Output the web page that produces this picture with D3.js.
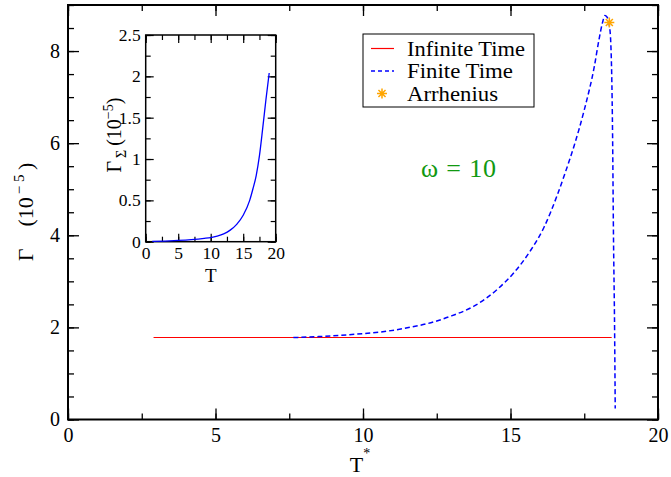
<!DOCTYPE html>
<html>
<head>
<meta charset="utf-8">
<script src="https://cdn.jsdelivr.net/npm/d3@7"></script>
<style>
  body { margin: 0; background: #fff; }
  svg { display: block; }
  text { font-family: "Liberation Serif", "Times New Roman", serif; }
</style>
</head>
<body>
<svg id="chart" width="671" height="477"></svg>
<script>
// main panel data
const infiniteT = [2.9, 18.43];
const infiniteG = [1.78, 1.78];
const finiteT = [7.64, 8.5, 9.5, 10.6, 11.5, 12.4, 13.0, 13.76, 14.56, 15.12, 15.69, 16.14, 16.59, 16.85, 17.16, 17.5, 17.84, 18.0, 18.12, 18.2, 18.27, 18.35, 18.4, 18.46, 18.49, 18.53, 18.55];
const finiteG = [1.78, 1.8, 1.84, 1.9, 1.99, 2.12, 2.25, 2.46, 2.83, 3.19, 3.68, 4.18, 4.88, 5.35, 5.95, 6.72, 7.66, 8.25, 8.62, 8.77, 8.74, 8.56, 8.17, 6.2, 4.04, 1.87, 0.24];
const arrheniusT = [18.35];
const arrheniusG = [8.62];

// inset data
const insetT = [1, 3, 5, 7, 9, 10, 11, 12, 13, 14, 15, 16, 16.5, 17, 17.5, 18, 18.5, 19.0];
const insetG = [0.003, 0.008, 0.015, 0.025, 0.04, 0.05, 0.068, 0.095, 0.14, 0.21, 0.32, 0.5, 0.64, 0.8, 1.04, 1.37, 1.72, 2.04];

const legendLabels = ['Infinite Time', 'Finite Time', 'Arrhenius'];
const mainXTicks = [0, 5, 10, 15, 20];
const mainYTicks = [0, 2, 4, 6, 8];
const insetXTicks = [0, 5, 10, 15, 20];
const insetYTicks = [0, 0.5, 1, 1.5, 2, 2.5];

const svg = d3.select('#chart');
const serif = '"Liberation Serif", "Times New Roman", serif';

const x = d3.scaleLinear().domain([0, 20]).range([68, 658]);
const y = d3.scaleLinear().domain([0, 9]).range([419.5, 5]);
const ix = d3.scaleLinear().domain([0, 20]).range([145.7, 275.7]);
const iy = d3.scaleLinear().domain([0, 2.5]).range([241.7, 35]);

function frame(xs, ys, opt) {
  const [x0, x1] = xs.range();
  const [y0, y1] = ys.range();
  const g = svg.append('g');
  const minorX = d3.range(xs.domain()[0], xs.domain()[1] + 1e-9, opt.xMinor);
  const minorY = d3.range(ys.domain()[0], ys.domain()[1] + 1e-9, opt.yMinor);

  const axes = [
    [() => d3.axisBottom(xs), `translate(0,${y0})`, minorX, opt.xTicks, true],
    [() => d3.axisTop(xs), `translate(0,${y1})`, minorX, opt.xTicks, false],
    [() => d3.axisLeft(ys), `translate(${x0},0)`, minorY, opt.yTicks, true],
    [() => d3.axisRight(ys), `translate(${x1},0)`, minorY, opt.yTicks, false]
  ];
  axes.forEach(([mk, tr, minor, major, labels]) => {
    g.append('g').attr('transform', tr)
      .call(mk().tickValues(minor).tickSize(-opt.minor).tickFormat(''))
      .call(s => s.select('.domain').remove());
    const a = g.append('g').attr('transform', tr)
      .call(mk().tickValues(major).tickSize(-opt.major).tickPadding(opt.pad)
        .tickFormat(labels ? d3.format('') : ''));
    a.attr('font-family', serif).attr('font-size', opt.font);
    a.select('.domain').remove();
    a.selectAll('text').style('font-size', opt.font + 'px')
      .style('font-family', serif).attr('fill', '#000');
  });
  g.selectAll('.tick line').attr('stroke', '#000').attr('stroke-width', opt.tickW);
  g.append('rect')
    .attr('x', x0).attr('y', y1)
    .attr('width', x1 - x0).attr('height', y0 - y1)
    .attr('fill', 'none').attr('stroke', '#000').attr('stroke-width', opt.frameW);
  return g;
}

frame(x, y, { xTicks: mainXTicks, yTicks: mainYTicks, xMinor: 2.5, yMinor: 0.5,
  major: 11, minor: 6, pad: 8, font: 20, tickW: 1.3, frameW: 2 });

// red and blue curves
svg.append('path')
  .attr('d', d3.line().x(d => x(d[0])).y(d => y(d[1]))(d3.zip(infiniteT, infiniteG)))
  .attr('fill', 'none').attr('stroke', '#ff0000').attr('stroke-width', 1.2);
svg.append('path')
  .attr('d', d3.line().x(d => x(d[0])).y(d => y(d[1])).curve(d3.curveMonotoneX)(d3.zip(finiteT, finiteG)))
  .attr('fill', 'none').attr('stroke', '#0000ff').attr('stroke-width', 1.5)
  .attr('stroke-dasharray', '5,3');

function star(g, cx, cy, r) {
  const p = d3.path();
  for (let k = 0; k < 4; k++) {
    const a = k * Math.PI / 4;
    p.moveTo(cx - r * Math.cos(a), cy - r * Math.sin(a));
    p.lineTo(cx + r * Math.cos(a), cy + r * Math.sin(a));
  }
  g.append('path').attr('d', p.toString())
    .attr('stroke', '#ffa500').attr('stroke-width', 1.5).attr('fill', 'none');
}
arrheniusT.forEach((t, i) => star(svg, x(t), y(arrheniusG[i]), 5));

// legend
const lg = svg.append('g');
lg.append('rect').attr('x', 363).attr('y', 34).attr('width', 171).attr('height', 73)
  .attr('fill', 'none').attr('stroke', '#000').attr('stroke-width', 1);
legendLabels.forEach((lab, i) => {
  const ly = 48.5 + i * 22.5;
  if (i === 0) lg.append('line').attr('x1', 371).attr('x2', 394).attr('y1', ly).attr('y2', ly)
    .attr('stroke', '#ff0000').attr('stroke-width', 1.2);
  if (i === 1) lg.append('line').attr('x1', 371).attr('x2', 394).attr('y1', ly).attr('y2', ly)
    .attr('stroke', '#0000ff').attr('stroke-width', 1.5).attr('stroke-dasharray', '4,3');
  if (i === 2) star(lg, 382, ly, 5);
  lg.append('text').attr('x', 407).attr('y', ly + 7).style('font-size', '20px')
    .attr('textLength', [118, 106, 91][i]).attr('lengthAdjust', 'spacingAndGlyphs').text(lab);
});

svg.append('text').attr('x', 421).attr('y', 177)
  .attr('fill', '#119911').style('font-size', '26px')
  .attr('textLength', 75).attr('lengthAdjust', 'spacing').text('ω = 10');

// main axis titles
const yt = svg.append('text').attr('transform', 'translate(33,212) rotate(-90)')
  .attr('text-anchor', 'middle').style('font-size', '22px');
yt.append('tspan').text('Γ\u2002\u2002(10');
yt.append('tspan').attr('dy', -9).style('font-size', '15px').text('\u2009− 5');
yt.append('tspan').attr('dy', 9).text('\u2009)');

const xt = svg.append('text').attr('x', 360).attr('y', 472)
  .attr('text-anchor', 'middle').style('font-size', '22px');
xt.append('tspan').text('T');
xt.append('tspan').attr('dy', -14).style('font-size', '14px').text('*');

// inset
svg.append('rect').attr('x', ix(0)).attr('y', iy(2.5))
  .attr('width', ix(20) - ix(0)).attr('height', iy(0) - iy(2.5)).attr('fill', '#fff');
frame(ix, iy, { xTicks: insetXTicks, yTicks: insetYTicks, xMinor: 2.5, yMinor: 0.25,
  major: 8, minor: 5, pad: 5, font: 17.5, tickW: 1.2, frameW: 1.5 });
svg.append('path')
  .attr('d', d3.line().x(d => ix(d[0])).y(d => iy(d[1])).curve(d3.curveMonotoneX)(d3.zip(insetT, insetG)))
  .attr('fill', 'none').attr('stroke', '#0000ff').attr('stroke-width', 1.3);

svg.append('text').attr('x', ix(10)).attr('y', 282)
  .attr('text-anchor', 'middle').style('font-size', '19px').text('T');
const it = svg.append('text').attr('transform', 'translate(121,135) rotate(-90)')
  .attr('text-anchor', 'middle').style('font-size', '20px');
it.append('tspan').text('Γ');
it.append('tspan').attr('dy', 5).style('font-size', '14px').text('\u2009Σ');
it.append('tspan').attr('dy', -5).text('\u2009(10');
it.append('tspan').attr('dy', -8).style('font-size', '14px').text('−5');
it.append('tspan').attr('dy', 8).text(')');
</script>
</body>
</html>
